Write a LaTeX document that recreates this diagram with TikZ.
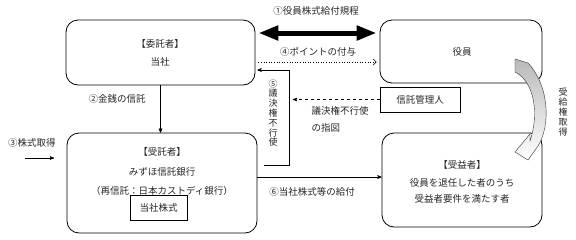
\documentclass[tikz,border=0pt]{standalone}
\usepackage{fontspec}
\setmainfont{Noto Sans CJK JP}
\usetikzlibrary{arrows}
\usetikzlibrary{arrows.meta}
\usetikzlibrary{positioning}
\tikzstyle{box}=[rounded corners=12pt,draw=black,thick,inner sep=0pt]
\tikzstyle{sqbox}=[draw=black,thick,inner sep=2pt]
\tikzstyle{vtxt}=[align=center,inner sep=0pt,font=\fontsize{9}{9.8}\selectfont]
\tikzstyle{arr}=[->,>=stealth',draw=black,semithick]

\begin{document}
\begin{tikzpicture}[x=1pt,y=-1pt,font=\fontsize{9.5}{11}\selectfont,text=black!85]
        \useasboundingbox (0,0) rectangle (576,239);
        \node[box,minimum width=189pt,minimum height=65pt] (itaku) at (160.5,52.5) {};
        \node[box,minimum width=162pt,minimum height=63pt] (yakuin) at (461,51.5) {};
        \node[box,minimum width=190pt,minimum height=100pt] (jutaku) at (162,183) {};
        \node[box,minimum width=160pt,minimum height=94pt] (jueki) at (462,180) {};
        \node[sqbox,minimum width=80pt,minimum height=25pt] (kanri) at (420,99.5) {信託管理人};
        \node[sqbox,minimum width=57pt,minimum height=25pt] (kabu) at (158.5,207.5) {当社株式};
        \node (itakuT) at (160,44) {【委託者】};
        \node (itakuN) at (160,62) {当社};
        \node (yakuinT) at (462,52) {役員};
        \node (jutakuT) at (162,152) {【受託者】};
        \node (jutakuN) at (162,172) {みずほ信託銀行};
        \node (jutakuS) at (162,191) {（再信託：日本カストディ銀行）};
        \node (juekiT) at (462,165) {【受益者】};
        \node (juekiA) at (462,183) {役員を退任した者のうち};
        \node (juekiB) at (462,199) {受益者要件を満たす者};
        % labels
        \node (l1) at (316,11) {①役員株式給付規程};
        \node (l2) at (117,99) {②金銭の信託};
        \node (l3) at (32,143) {③株式取得};
        \node (l4) at (318,52) {④ポイントの付与};
        \node[vtxt] (l5) at (273,113) {⑤\\議\\決\\権\\不\\行\\使};
        \node[anchor=west] (l7a) at (308,111) {議決権不行使};
        \node[anchor=west] (l7b) at (308,128) {の指図};
        \node (l6) at (312,192) {⑥当社株式等の給付};
        \node[vtxt] (l8) at (563,112) {受\\給\\権\\取\\得};
        % free ends
        \coordinate (r1) at (0,33);
        \coordinate (r4) at (0,62);
        \coordinate (r6) at (0,177);
        \coordinate (c3a) at (25,158);
        \coordinate (c3b) at (54,158);
        \coordinate (c5a) at (264,165);
        \coordinate (c5b) at (289,70);
        \coordinate (c7) at (293,99.5);
        % connectors
        \draw[line width=5pt,{Triangle[length=20pt,width=14pt]}-{Triangle[length=20pt,width=14pt]}] ([xshift=3pt]itaku.east |- r1) -- ([xshift=-3pt]yakuin.west |- r1);
        \draw[semithick,dotted,-{Straight Barb[length=3pt,width=6pt]}] ([xshift=3pt]itaku.east |- r4) -- ([xshift=-3pt]yakuin.west |- r4);
        \draw[arr] (itaku.south) -- (itaku.south |- jutaku.north);
        \draw[arr] (c3a) -- (c3b);
        \draw[arr] (c5a) -| (c5b) -- ([xshift=2pt]c5b -| itaku.east);
        \draw[arr,dashed] (kanri) -- (c7);
        \draw[arr] (jutaku.east |- r6) -- (jueki.west |- r6);
        % curved arrow
        \path[draw=black!80,top color=gray!55,bottom color=white,thin] (515,59) -- (528,63) .. controls (549,85) and (551,125) .. (538,146) -- (528,160) -- (515,152) -- (530,134) -- (530,141) .. controls (539,115) and (535,82) .. (515,72) -- cycle;
\end{tikzpicture}
\end{document}
